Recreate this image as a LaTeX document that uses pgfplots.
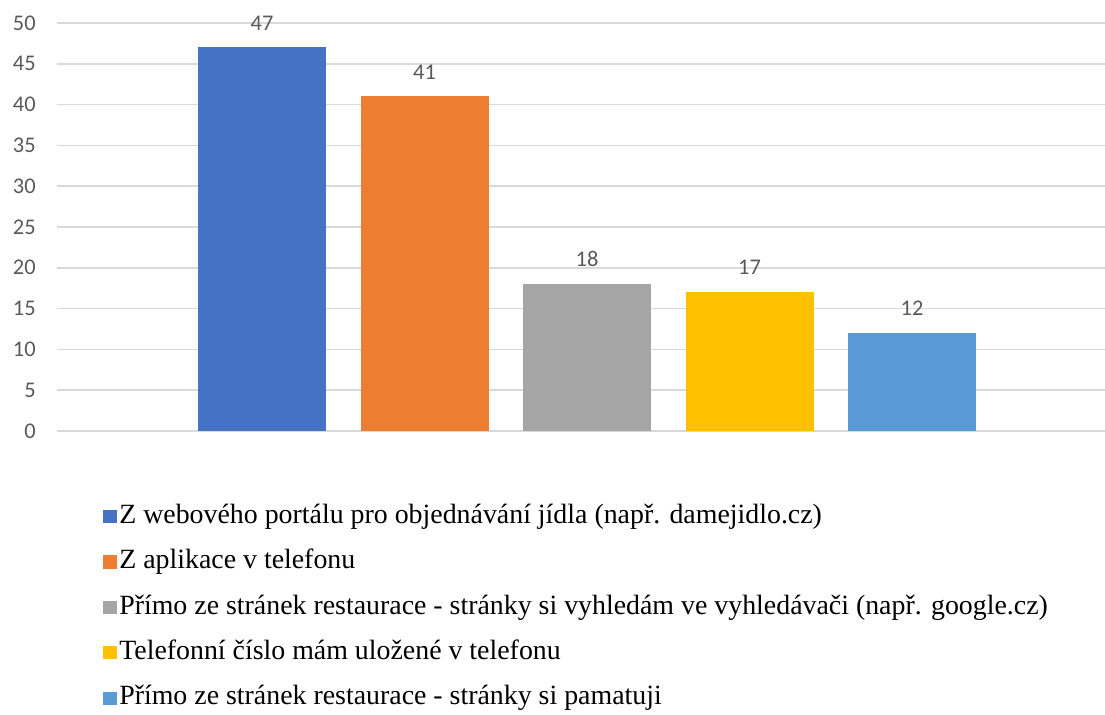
\documentclass[border=0pt]{standalone}
\usepackage{fontspec}
\setmainfont{Liberation Serif}
\newfontfamily\calibri{Carlito}
\newfontfamily\timesfont{Liberation Serif}
\usepackage{pgfplots}
\pgfplotsset{compat=1.18}

\definecolor{cBlue}{HTML}{4472C4}
\definecolor{cOrange}{HTML}{ED7D31}
\definecolor{cGray}{HTML}{A5A5A5}
\definecolor{cGold}{HTML}{FFC000}
\definecolor{cSky}{HTML}{5B9BD5}
\definecolor{gridc}{HTML}{D9D9D9}
\definecolor{labc}{HTML}{595959}

\newcommand{\legtext}[1]{{\timesfont\fontsize{20.9}{24}\selectfont #1}}

\begin{document}
\begin{tikzpicture}
\path[use as bounding box] (0,0) rectangle (828.75pt,535.5pt);
\begin{axis}[
  at={(42.75pt,212.25pt)}, anchor=south west,
  scale only axis, width=786pt, height=306pt,
  xmin=-1.2615, xmax=5.1877, ymin=0, ymax=50,
  ytick={0,5,...,50}, xtick=\empty,
  axis line style={draw=none},
  major tick length=0pt,
  ymajorgrids, grid style={gridc, line width=1.2pt},
  /pgf/number format/assume math mode=true,
  yticklabel style={font=\calibri\fontsize{16.8}{20}\selectfont, text=labc, anchor=east, xshift=-12.5pt},
  ybar, bar width=96pt, bar shift=0pt,
  nodes near coords,
  every node near coord/.append style={font=\calibri\fontsize{16.8}{20}\selectfont, text=labc, anchor=base, yshift=13pt},
  legend cell align=left,
  legend style={at={(0.0401,-0.1695)}, anchor=north west, draw=none, fill=none,
    text=black, row sep=14.1pt,
    nodes={text height=15pt, text depth=5pt, inner ysep=0pt},
    /tikz/every even column/.append style={column sep=0pt}},
  legend image code/.code={\fill (0pt,-5pt) rectangle (10pt,5pt);},
]
\addplot[fill=cBlue, draw=none] coordinates {(0,47)};
\addplot[fill=cOrange, draw=none] coordinates {(1,41)};
\addplot[fill=cGray, draw=none] coordinates {(2,18)};
\addplot[fill=cGold, draw=none] coordinates {(3,17)};
\addplot[fill=cSky, draw=none] coordinates {(4,12)};
\legend{\legtext{Z webového portálu pro objednávání jídla (např. damejidlo.cz)},
  \legtext{Z aplikace v telefonu},
  \legtext{Přímo ze stránek restaurace - stránky si vyhledám ve vyhledávači (např. google.cz)},
  \legtext{Telefonní číslo mám uložené v telefonu},
  \legtext{Přímo ze stránek restaurace - stránky si pamatuji}}
\end{axis}
\end{tikzpicture}
\end{document}
